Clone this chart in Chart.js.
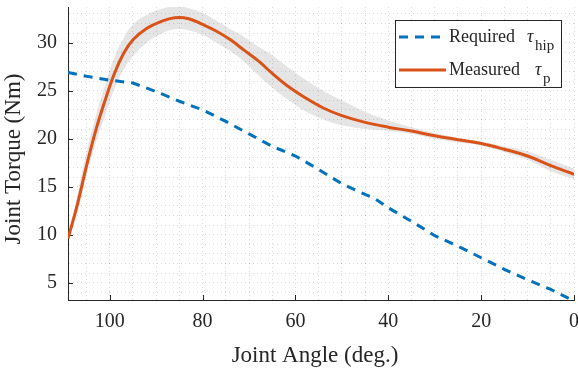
<!DOCTYPE html>
<html>
<head>
<meta charset="utf-8">
<script src="https://cdn.jsdelivr.net/npm/chart.js@4.4.1/dist/chart.umd.min.js"></script>
<style>
    html, body { margin: 0; padding: 0; background: #fff; }
    canvas { display: block; }
</style>
</head>
<body>
<canvas id="myChart" width="578" height="373"></canvas>
<script>
    // Required hip torque (blue dashed)
    const reqAngle = [109, 105, 100, 95, 90, 85, 80, 75, 70, 65, 60, 55, 50, 45, 43, 40, 35, 30, 25, 20, 15, 10, 5, 0];
    const reqTorque = [26.9, 26.5, 26.1, 25.8, 24.9, 23.9, 23.0, 21.8, 20.5, 19.2, 18.2, 16.8, 15.3, 14.2, 13.8, 12.8, 11.4, 9.9, 8.8, 7.6, 6.4, 5.3, 4.3, 3.1];

    // Measured torque (red) and its grey spread
    const measAngle = [109, 107, 105, 103, 101, 99, 97, 95, 92, 89, 86, 83, 80, 77, 74, 71, 68, 65, 62, 58, 54, 50, 45, 40, 35, 30, 25, 20, 15, 10, 5, 0];
    const measTorque = [9.6, 13.1, 17.2, 20.9, 24.0, 26.8, 28.9, 30.3, 31.5, 32.2, 32.6, 32.5, 31.9, 31.2, 30.3, 29.2, 28.1, 26.8, 25.6, 24.3, 23.2, 22.4, 21.7, 21.2, 20.8, 20.3, 19.9, 19.5, 18.9, 18.2, 17.2, 16.3];
    const bandUpper = [9.6, 14.1, 18.6, 22.4, 25.6, 28.5, 30.5, 31.9, 32.9, 33.5, 33.8, 33.6, 33.1, 32.3, 31.4, 30.6, 29.6, 28.7, 27.6, 26.2, 25.0, 24.0, 22.8, 21.9, 21.2, 20.6, 20.1, 19.7, 19.2, 18.7, 17.8, 16.9];
    const bandLower = [9.6, 12.3, 16.2, 19.6, 22.4, 25.2, 27.2, 28.6, 30.0, 30.9, 31.4, 31.3, 30.8, 30.0, 29.1, 28.0, 26.6, 25.3, 24.2, 22.9, 22.0, 21.4, 21.0, 20.8, 20.5, 20.0, 19.6, 19.3, 18.6, 17.8, 16.6, 15.8];

    // Axis ticks (every tick gets a dotted grid line, labels only on the majors)
    const xTicks = [0, 5, 10, 15, 20, 25, 30, 35, 40, 45, 50, 55, 60, 65, 70, 75, 80, 85, 90, 95, 100, 105];
    const xMajor = [0, 20, 40, 60, 80, 100];
    const yTicks = [4, 5, 6, 7, 8, 9, 10, 11, 12, 13, 14, 15, 16, 17, 18, 19, 20, 21, 22, 23, 24, 25, 26, 27, 28, 29, 30, 31, 32, 33];
    const yMajor = [5, 10, 15, 20, 25, 30];

    const BLUE = '#0072BD';
    const RED = '#D95319';
    const AXIS = '#262626';
    const SERIF = "'Liberation Serif', 'Times New Roman', serif";

    const pts = (xs, ys) => xs.map((x, i) => ({ x: x, y: ys[i] }));

    // inward tick marks like the original figure
    const tickMarks = {
        id: 'tickMarks',
        beforeDatasetsDraw(chart) {
            const { ctx, chartArea, scales } = chart;
            ctx.save();
            ctx.strokeStyle = AXIS;
            ctx.lineWidth = 1;
            ctx.beginPath();
            xMajor.forEach(v => {
                const px = Math.round(scales.x.getPixelForValue(v)) + 0.5;
                ctx.moveTo(px, chartArea.bottom);
                ctx.lineTo(px, chartArea.bottom - 5);
            });
            yMajor.forEach(v => {
                const py = Math.round(scales.y.getPixelForValue(v)) + 0.5;
                ctx.moveTo(chartArea.left, py);
                ctx.lineTo(chartArea.left + 5, py);
            });
            ctx.stroke();
            ctx.restore();
        }
    };

    // axis titles, placed where the original has them
    const axisTitles = {
        id: 'axisTitles',
        afterDraw(chart) {
            const ctx = chart.ctx;
            ctx.save();
            ctx.fillStyle = AXIS;
            ctx.font = '23px ' + SERIF;
            ctx.textAlign = 'center';
            ctx.textBaseline = 'alphabetic';
            ctx.fillText('Joint Angle (deg.)', 315, 362);
            ctx.translate(20, 159);
            ctx.rotate(-Math.PI / 2);
            ctx.fillText('Joint Torque (Nm)', 0, 0);
            ctx.restore();
        }
    };

    // boxed legend with subscripted tau
    const boxLegend = {
        id: 'boxLegend',
        afterDraw(chart) {
            const ctx = chart.ctx;
            ctx.save();
            ctx.fillStyle = '#fff';
            ctx.fillRect(395, 20, 167, 68);
            ctx.strokeStyle = AXIS;
            ctx.lineWidth = 1;
            ctx.strokeRect(395.5, 20.5, 166, 67);

            const rows = [
                { y: 37, color: BLUE, dash: [9, 7], label: 'Required', tauX: 527, sub: 'hip', subX: 535 },
                { y: 70, color: RED, dash: [], label: 'Measured', tauX: 535, sub: 'p', subX: 543 }
            ];
            rows.forEach(r => {
                ctx.strokeStyle = r.color;
                ctx.lineWidth = 3;
                ctx.setLineDash(r.dash);
                ctx.beginPath();
                ctx.moveTo(399, r.y);
                ctx.lineTo(446, r.y);
                ctx.stroke();
                ctx.setLineDash([]);

                ctx.fillStyle = AXIS;
                ctx.textBaseline = 'alphabetic';
                ctx.textAlign = 'left';
                ctx.font = '18px ' + SERIF;
                ctx.fillText(r.label, 449, r.y + 5);
                ctx.font = 'italic 18px ' + SERIF;
                ctx.fillText('τ', r.tauX, r.y + 5);
                ctx.font = '15px ' + SERIF;
                ctx.fillText(r.sub, r.subX, r.y + 13);
            });
            ctx.restore();
        }
    };

    const data = {
        datasets: [
            {
                label: 'spread upper',
                data: pts(measAngle, bandUpper),
                borderWidth: 0,
                pointRadius: 0,
                backgroundColor: 'rgba(0, 0, 0, 0.1)',
                fill: '+1',
                tension: 0.4,
                order: 5
            },
            {
                label: 'spread lower',
                data: pts(measAngle, bandLower),
                borderWidth: 0,
                pointRadius: 0,
                fill: false,
                tension: 0.4,
                order: 6
            },
            {
                label: 'Required τhip',
                data: pts(reqAngle, reqTorque),
                borderColor: BLUE,
                borderWidth: 3,
                borderDash: [9, 7],
                pointRadius: 0,
                fill: false,
                tension: 0,
                order: 2
            },
            {
                label: 'Measured τp',
                data: pts(measAngle, measTorque),
                borderColor: RED,
                borderWidth: 3,
                pointRadius: 0,
                fill: false,
                tension: 0.4,
                order: 1
            }
        ]
    };

    const options = {
        responsive: false,
        animation: false,
        layout: { padding: { top: 7, right: 4, left: 0, bottom: 0 } },
        plugins: {
            legend: { display: false },
            tooltip: { enabled: false }
        },
        scales: {
            x: {
                type: 'linear',
                reverse: true,
                min: 0,
                max: 109,
                afterBuildTicks: s => { s.ticks = xTicks.map(v => ({ value: v })); },
                afterFit: s => { s.height = 73; s.paddingLeft = 0; s.paddingRight = 0; },
                ticks: {
                    autoSkip: false,
                    maxRotation: 0,
                    padding: 10,
                    color: AXIS,
                    font: { family: SERIF, size: 20 },
                    callback: v => (v % 20 === 0 ? v : '')
                },
                grid: { color: 'rgba(38,38,38,0.17)', lineWidth: 1, drawTicks: false },
                border: { color: AXIS, width: 1, dash: [1, 3] }
            },
            y: {
                min: 3.2,
                max: 33.72,
                afterBuildTicks: s => { s.ticks = yTicks.map(v => ({ value: v })); },
                afterFit: s => { s.width = 68; s.paddingTop = 0; s.paddingBottom = 0; },
                ticks: {
                    autoSkip: false,
                    padding: 11,
                    color: AXIS,
                    font: { family: SERIF, size: 20 },
                    callback: v => (v % 5 === 0 ? v : '')
                },
                grid: { color: 'rgba(38,38,38,0.17)', lineWidth: 1, drawTicks: false },
                border: { color: AXIS, width: 1, dash: [1, 3] }
            }
        }
    };

    const ctx = document.getElementById('myChart').getContext('2d');
    const myChart = new Chart(ctx, {
        type: 'line',
        data: data,
        options: options,
        plugins: [tickMarks, axisTitles, boxLegend]
    });
</script>
</body>
</html>
